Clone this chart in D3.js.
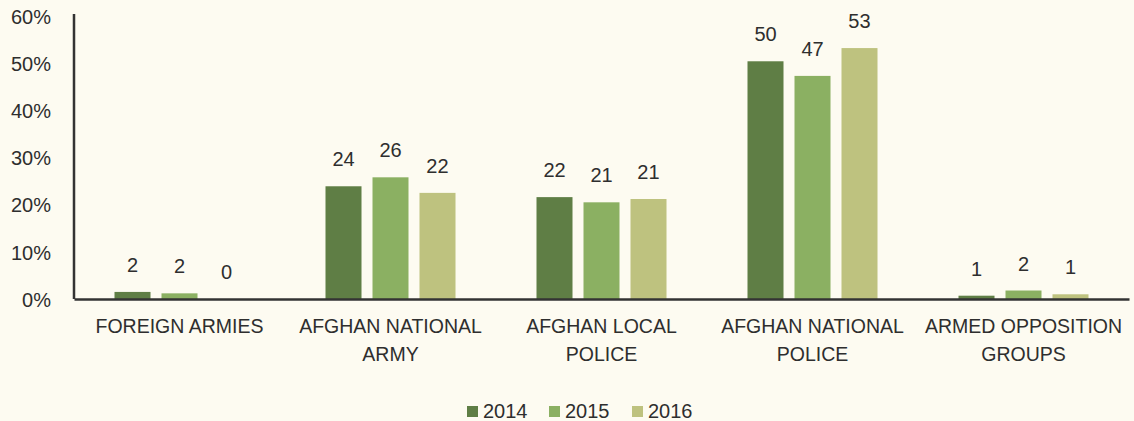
<!DOCTYPE html>
<html><head><meta charset="utf-8">
<script src="https://cdn.jsdelivr.net/npm/d3@7"></script>
<style>html,body{margin:0;padding:0;background:#fdfbf1;}svg{display:block;}</style>
</head><body>
<svg id="chart" width="1134" height="421"></svg>
<script>
const categories = [["FOREIGN ARMIES"],["AFGHAN NATIONAL","ARMY"],["AFGHAN LOCAL","POLICE"],["AFGHAN NATIONAL","POLICE"],["ARMED OPPOSITION","GROUPS"]];
const years = ["2014","2015","2016"];
const values2014 = [1.5, 23.9, 21.6, 50.4, 0.7];
const values2015 = [1.2, 25.8, 20.5, 47.3, 1.8];
const values2016 = [0.0, 22.5, 21.2, 53.2, 1.0];
const labels2014 = ["2","24","22","50","1"];
const labels2015 = ["2","26","21","47","2"];
const labels2016 = ["0","22","21","53","1"];
const yTicks = [0,10,20,30,40,50,60];
const colors = ["#5f7e45","#8bb062","#bec27f"];

const series = [values2014, values2015, values2016];
const seriesLabels = [labels2014, labels2015, labels2016];
const svg = d3.select("#chart");
svg.append("rect").attr("width",1134).attr("height",421).attr("fill","#fdfbf1");
const font = "'Liberation Sans', Arial, sans-serif";
const txt = "#2e2e2e";
const mLeft = 74, mRight = 1129, mTop = 16, mBottom = 299;
const x = d3.scaleBand().domain(d3.range(categories.length)).range([mLeft,mRight]).padding(0);
const xi = d3.scaleBand().domain(d3.range(3)).range([-65, 65]).paddingInner(0.234);
const y = d3.scaleLinear().domain([0,60]).range([mBottom, mTop]);

const yAxis = svg.append("g").attr("transform",`translate(${mLeft},0)`)
  .call(d3.axisLeft(y).tickValues(yTicks).tickFormat(d=>d+"%").tickSize(0).tickPadding(23));
yAxis.select(".domain").attr("stroke","#333").attr("stroke-width",2.5).attr("d", `M0,${mBottom}V14`);
yAxis.selectAll("text").attr("font-family",font).attr("font-size",20).attr("fill",txt).attr("dy","0.36em");

const g = svg.append("g");
series.forEach((vals, si) => {
  vals.forEach((v, ci) => {
    const cx = x(ci) + x.bandwidth()/2 + xi(si);
    if (v > 0) {
      g.append("rect").attr("x", cx).attr("y", y(v)).attr("width", xi.bandwidth())
        .attr("height", y(0)-y(v)).attr("fill", colors[si]);
    }
    g.append("text").attr("x", cx + xi.bandwidth()/2).attr("y", y(v) - 20)
      .attr("text-anchor","middle").attr("font-family",font).attr("font-size",20)
      .attr("fill",txt).text(seriesLabels[si][ci]);
  });
});

const xAxis = svg.append("g").attr("transform",`translate(0,${mBottom})`)
  .call(d3.axisBottom(x).tickSize(0).tickFormat(""));
xAxis.select(".domain").attr("stroke","#333").attr("stroke-width",2.5);
categories.forEach((lines, ci) => {
  const t = svg.append("text").attr("x", x(ci)+x.bandwidth()/2).attr("y", 333)
    .attr("text-anchor","middle").attr("font-family",font).attr("font-size",19.5).attr("fill",txt);
  lines.forEach((l, li) => t.append("tspan").attr("x", x(ci)+x.bandwidth()/2).attr("dy", li===0?0:28).text(l));
});

const legendX = [467, 549, 632];
const legend = svg.append("g");
years.forEach((yr, i) => {
  legend.append("rect").attr("x", legendX[i]).attr("y", 406).attr("width", 11).attr("height", 11).attr("fill", colors[i]);
  legend.append("text").attr("x", legendX[i]+16).attr("y", 418).attr("font-family",font)
    .attr("font-size",20).attr("fill",txt).text(yr);
});
</script>
</body></html>
